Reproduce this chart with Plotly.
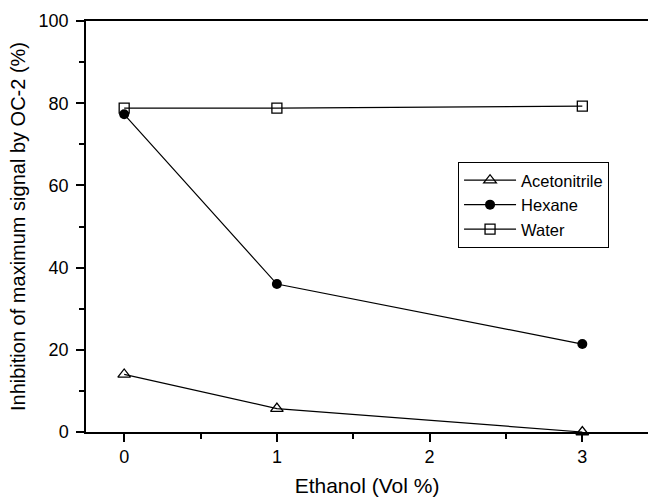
import plotly.graph_objects as go

ethanol = [0, 1, 3]
acetonitrile = [14.0, 5.7, 0.0]
hexane = [77.3, 36.0, 21.4]
water = [78.8, 78.8, 79.3]

fig = go.Figure()
line = dict(color="black", width=1.2)
fig.add_trace(go.Scatter(x=ethanol, y=acetonitrile, mode="lines+markers", name="Acetonitrile",
                         line=line, marker=dict(symbol="triangle-up-open", size=11, color="black", line=dict(width=1.3)),
                         cliponaxis=False))
fig.add_trace(go.Scatter(x=ethanol, y=hexane, mode="lines+markers", name="Hexane",
                         line=line, marker=dict(symbol="circle", size=10, color="black"), cliponaxis=False))
fig.add_trace(go.Scatter(x=ethanol, y=water, mode="lines+markers", name="Water",
                         line=line, marker=dict(symbol="square-open", size=10, color="black", line=dict(width=1.3)),
                         cliponaxis=False))

font = "Liberation Sans, Arial, sans-serif"
fig.update_layout(
    width=648, height=497,
    margin=dict(l=86, r=0, t=21, b=65),
    plot_bgcolor="white", paper_bgcolor="white",
    font=dict(family=font, color="black", size=17),
    showlegend=True,
    legend=dict(x=0.662, y=0.657, xanchor="left", yanchor="top",
                bordercolor="black", borderwidth=1, bgcolor="white",
                font=dict(size=16.5), tracegroupgap=0, itemwidth=52),
    xaxis=dict(range=[-0.25, 3.43], tickvals=[0, 1, 2, 3], showgrid=False, zeroline=False,
               showline=True, linecolor="black", linewidth=1.5, mirror=True,
               ticks="outside", ticklen=8, tickwidth=1.5, tickcolor="black",
               minor=dict(tickvals=[0.5, 1.5, 2.5], ticks="outside", ticklen=5, tickwidth=1.5, tickcolor="black"),
               title=dict(text="Ethanol (Vol %)", font=dict(size=21), standoff=14),
               tickfont=dict(size=18)),
    yaxis=dict(range=[0, 100], tickvals=[0, 20, 40, 60, 80, 100], showgrid=False, zeroline=False,
               showline=True, linecolor="black", linewidth=1.5,
               ticks="outside", ticklen=8, tickwidth=1.5, tickcolor="black",
               minor=dict(tickvals=[10, 30, 50, 70, 90], ticks="outside", ticklen=5, tickwidth=1.5, tickcolor="black"),
               title=dict(text="Inhibition of maximum signal by OC-2 (%)", font=dict(size=20), standoff=8),
               tickfont=dict(size=18), ticklabelstandoff=4),
)
fig.write_html("out.html")
